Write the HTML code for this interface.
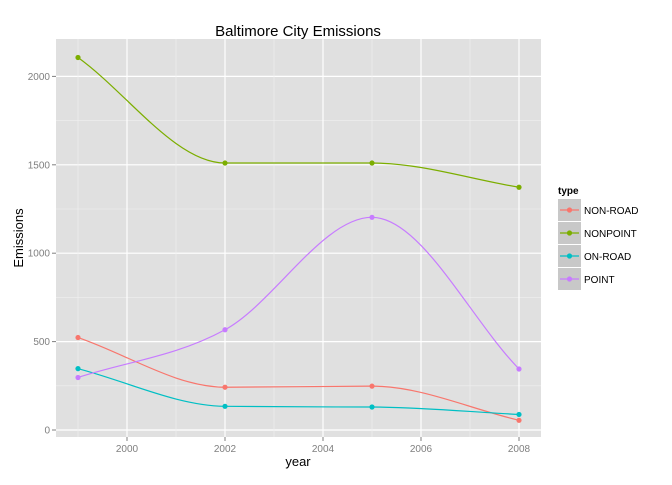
<!DOCTYPE html>
<html><head><meta charset="utf-8"><style>
body{margin:0;background:#fff;font-family:"Liberation Sans",sans-serif}
</style></head><body>
<svg id="c" width="672" height="480" xmlns="http://www.w3.org/2000/svg" font-family="Liberation Sans, sans-serif">
<text x="298" y="36" text-anchor="middle" font-size="15">Baltimore City Emissions</text>
<rect x="56" y="39" width="485" height="398" fill="#e0e0e0"/>
<g id="grid"></g><g id="axes"></g><g id="series"></g>
<text x="298" y="466" text-anchor="middle" font-size="13">year</text>
<text x="23" y="238" text-anchor="middle" font-size="13" transform="rotate(-90 23 238)">Emissions</text>
<text x="558" y="194" font-size="10" font-weight="bold">type</text>
<g id="legend"></g>
</svg>
<script>
const years=[1999,2002,2005,2008];
const types=["NON-ROAD","NONPOINT","ON-ROAD","POINT"];
const colors=["#f8766d","#7cae00","#00bfc4","#c77cff"];
const nonRoad=[523,242,248,55];
const nonPoint=[2107,1510,1510,1373];
const onRoad=[347,134,130,88];
const point=[297,567,1203,345];
const yTicks=[0,500,1000,1500,2000];
const xTicks=[2000,2002,2004,2006,2008];
const NS="http://www.w3.org/2000/svg";
const X=v=>127+(v-2000)*49, Y=v=>430-v*0.1768;
function mk(t,a,p){const e=document.createElementNS(NS,t);for(const k in a)e.setAttribute(k,a[k]);p.appendChild(e);return e;}
const g=document.getElementById('grid'),ax=document.getElementById('axes'),sg=document.getElementById('series'),lg=document.getElementById('legend');
yTicks.forEach((v,i)=>{
 const l=mk('line',{x1:56,x2:541,y1:Y(v),y2:Y(v),stroke:'#fff','stroke-width':1.2},g);
 
 
 if(i<yTicks.length-1){const m=mk('line',{x1:56,x2:541,y1:Y(v+250),y2:Y(v+250),stroke:'#f0f0f0','stroke-width':0.6},g);
 
 }
 const t=mk('text',{x:50,y:Y(v)+3.5,'text-anchor':'end','font-size':10,fill:'#7f7f7f'},ax);t.textContent=v;
 
 
 mk('line',{x1:52,x2:56,y1:Y(v),y2:Y(v),stroke:'#7f7f7f'},ax);
});
xTicks.forEach((v,i)=>{
 const l=mk('line',{x1:X(v),x2:X(v),y1:39,y2:437,stroke:'#fff','stroke-width':1.2},g);
 
 
 const m=mk('line',{x1:X(v-1),x2:X(v-1),y1:39,y2:437,stroke:'#f0f0f0','stroke-width':0.6},g);
 
 
 const t=mk('text',{x:X(v),y:452,'text-anchor':'middle','font-size':10,fill:'#7f7f7f'},ax);t.textContent=v;
 
 
 mk('line',{x1:X(v),x2:X(v),y1:437,y2:441,stroke:'#7f7f7f'},ax);
});
function path(vals){
 const p=years.map((y,i)=>[X(y),Y(vals[i])]);
 const n=p.length,d=[],m=[];
 for(let i=0;i<n-1;i++)d.push((p[i+1][1]-p[i][1])/(p[i+1][0]-p[i][0]));
 m[0]=d[0];m[n-1]=d[n-2];
 for(let i=1;i<n-1;i++)m[i]=(d[i-1]*d[i]<=0)?0:(d[i-1]+d[i])/2;
 for(let i=0;i<n-1;i++){
  if(d[i]===0){m[i]=0;m[i+1]=0;continue;}
  const a=m[i]/d[i],b=m[i+1]/d[i],s=a*a+b*b;
  if(s>9){const t=3/Math.sqrt(s);m[i]=t*a*d[i];m[i+1]=t*b*d[i];}
 }
 let s=`M${p[0][0]},${p[0][1]}`;
 for(let i=0;i<n-1;i++){
  const h=(p[i+1][0]-p[i][0])/3;
  s+=` C${p[i][0]+h},${p[i][1]+m[i]*h} ${p[i+1][0]-h},${p[i+1][1]-m[i+1]*h} ${p[i+1][0]},${p[i+1][1]}`;
 }
 return s;
}
[nonRoad,nonPoint,onRoad,point].forEach((vals,k)=>{
 const pa=mk('path',{d:path(vals),fill:'none',stroke:colors[k],'stroke-width':1.2},sg);
 
 
 vals.forEach((v,i)=>{const c=mk('circle',{cx:X(years[i]),cy:Y(v),r:2.6,fill:colors[k]},sg);
 
 });
 const y0=199+k*23;
 const r=mk('rect',{x:558,y:y0,width:23,height:22,fill:'#c8c8c8'},lg);
 
 
 mk('line',{x1:560,x2:579,y1:y0+11,y2:y0+11,stroke:colors[k],'stroke-width':1.2},lg);
 mk('circle',{cx:569.5,cy:y0+11,r:2.6,fill:colors[k]},lg);
 const t=mk('text',{x:584,y:y0+15,'font-size':10},lg);t.textContent=types[k];
 
 
});
</script>
</body></html>
